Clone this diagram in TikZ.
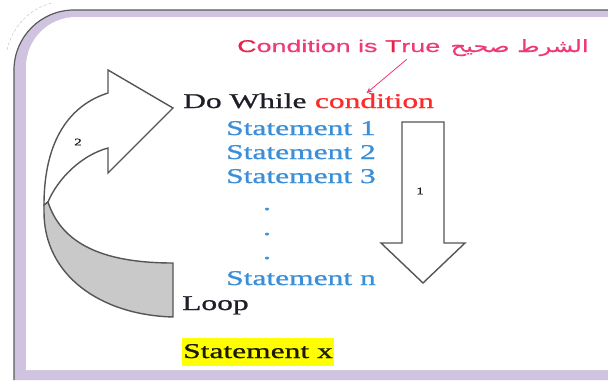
\documentclass[tikz,border=0pt]{standalone}
\usepackage{fontspec}
\usepackage{tikz}
\usetikzlibrary{positioning,arrows.meta}
\TeXXeTstate=1
\newfontfamily\codefont{Liberation Serif}[FakeStretch=1.5,FakeBold=1]
\newfontfamily\notefont{Liberation Sans}[FakeStretch=1.58,FakeBold=0.6]
\newfontfamily\arabicfont{DejaVu Sans}[Script=Arabic,FakeStretch=1.42,FakeBold=0.6]
\definecolor{ink}{HTML}{1E1E28}
\definecolor{stmtblue}{HTML}{3A8FD8}
\definecolor{condred}{HTML}{FF2A2A}
\definecolor{notepink}{HTML}{EE3A78}
\definecolor{notered}{HTML}{E8204A}
\definecolor{frameband}{HTML}{CFC3DF}
\definecolor{framerule}{HTML}{5A5A5A}
\definecolor{arrowline}{HTML}{555555}
\definecolor{arrowfill}{HTML}{C9C9C9}
\definecolor{hilite}{HTML}{FFFF00}
\definecolor{stmtx}{HTML}{1A1A00}

\begin{document}
\begin{tikzpicture}[x=1pt,y=1pt,
    code/.style={font=\codefont\fontsize{21}{25}\selectfont,anchor=base west,inner sep=0pt},
    stmt/.style={code,text=stmtblue},
    note/.style={font=\notefont\fontsize{17}{20}\selectfont,text=notepink,anchor=base west,inner sep=0pt},
    bigarrow/.style={draw=arrowline,line width=1.4pt,line join=miter},
    tag/.style={font=\codefont\fontsize{10}{12}\selectfont,text=ink,inner sep=0pt}]
  \useasboundingbox (0,0) rectangle (608,-388);
  % frame
  \fill[frameband] (14,-380) -- (14,-70) .. controls (14,-36.9) and (40.9,-10) .. (74,-10) -- (608,-10) -- (608,-380) -- cycle;
  \fill[white] (26,-370) -- (26,-67) .. controls (26,-39.4) and (48.4,-17) .. (76,-17) -- (608,-17) -- (608,-370) -- cycle;
  \draw[framerule,line width=1.2pt] (14,-380) -- (14,-70) .. controls (14,-36.9) and (40.9,-10) .. (74,-10) -- (608,-10);
  \draw[framerule!40,densely dashed,line width=.4pt] (7,-50) .. controls (12,-28) and (28,-9) .. (52,-3);
  % arrows
  \draw[bigarrow,fill=white] (48,-202) .. controls (58,-178) and (82,-155) .. (108,-148) -- (108,-173) -- (173,-108) -- (108,-70) -- (108,-93) .. controls (70,-105) and (44,-140) .. (44,-205) -- cycle;
  \draw[bigarrow,fill=arrowfill] (48,-202) .. controls (62,-245) and (105,-263) .. (173,-263) -- (173,-317) .. controls (100,-315) and (44,-275) .. (44,-212) -- (44,-205) -- cycle;
  \node[tag] (two) at (78,-142) {2};
  \draw[bigarrow,fill=white] (402,-122) -- (444,-122) -- (444,-243) -- (465,-243) -- (423,-283) -- (381,-243) -- (402,-243) -- cycle;
  \node[tag] (one) at (420,-191) {1};
  % text
  \node[note] (truetxt) at (237,-52) {\textcolor{notered}{C}ondition is \textcolor{notered}{T}rue};
  \node[note,font=\arabicfont\fontsize{17}{20}\selectfont,base right=10pt of truetxt] (arabtxt) {\beginR الشرط صحيح\endR};
  \node[code,text=ink] (dowhile) at (183,-108) {Do While};
  \node[code,text=condred,base right=8pt of dowhile] (condtxt) {condition};
  \draw[notepink,line width=.8pt,-{Stealth[length=6pt,width=5pt]}] ([xshift=68pt,yshift=-7pt]truetxt.south) -- ([xshift=-8pt]condtxt.north);
  \foreach \n/\y in {1/135,2/159,3/183} \node[stmt] (st\n) at (226,-\y) {Statement \n};
  \foreach \i/\y in {1/210,2/235,3/259} \node[stmt,anchor=base] (dot\i) at (267,-\y) {.};
  \node[stmt] (stn) at (226,-285) {Statement n};
  \node[code,text=ink] (loop) at (182,-310) {Loop};
  \node[code,text=stmtx,fill=hilite,inner xsep=1pt,text height=20pt,text depth=8pt] (stx) at (182,-358) {Statement x};
\end{tikzpicture}
\end{document}
